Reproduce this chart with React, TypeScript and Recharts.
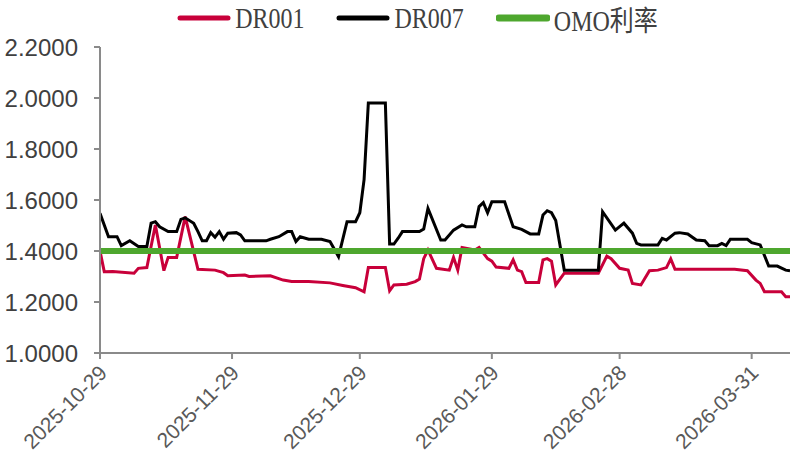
import { LineChart, Line, XAxis, YAxis, Legend } from "recharts";

// DR001 vertices (date, %)
const dr001Dates = [
  "2025-10-29", "2025-10-30", "2025-11-01", "2025-11-06", "2025-11-07", "2025-11-09", "2025-11-11",
  "2025-11-13", "2025-11-14", "2025-11-16", "2025-11-18", "2025-11-21", "2025-11-25", "2025-11-27",
  "2025-11-28", "2025-12-02", "2025-12-03", "2025-12-08", "2025-12-11", "2025-12-13", "2025-12-17",
  "2025-12-22", "2025-12-25", "2025-12-28", "2025-12-30", "2025-12-31", "2026-01-04", "2026-01-05",
  "2026-01-06", "2026-01-09", "2026-01-11", "2026-01-12", "2026-01-13", "2026-01-14", "2026-01-16",
  "2026-01-19", "2026-01-20", "2026-01-21", "2026-01-22", "2026-01-25", "2026-01-26", "2026-01-28",
  "2026-01-29", "2026-01-30", "2026-02-02", "2026-02-03", "2026-02-04", "2026-02-05", "2026-02-06",
  "2026-02-09", "2026-02-10", "2026-02-11", "2026-02-12", "2026-02-13", "2026-02-15", "2026-02-23",
  "2026-02-25", "2026-02-26", "2026-02-28", "2026-03-02", "2026-03-03", "2026-03-05", "2026-03-07",
  "2026-03-09", "2026-03-11", "2026-03-12", "2026-03-13", "2026-03-27", "2026-03-30", "2026-04-01",
  "2026-04-02", "2026-04-03", "2026-04-07", "2026-04-08", "2026-04-09",
];
const dr001Values = [
  1.4, 1.319, 1.32, 1.313, 1.332, 1.335, 1.502,
  1.323, 1.375, 1.375, 1.535, 1.328, 1.325, 1.315,
  1.303, 1.306, 1.3, 1.303, 1.286, 1.28, 1.28,
  1.275, 1.265, 1.256, 1.24, 1.335, 1.335, 1.244,
  1.267, 1.27, 1.28, 1.29, 1.37, 1.404, 1.332,
  1.325, 1.375, 1.325, 1.414, 1.404, 1.414, 1.37,
  1.36, 1.337, 1.332, 1.365, 1.325, 1.319, 1.276,
  1.276, 1.365, 1.37, 1.36, 1.267, 1.313, 1.313,
  1.38, 1.37, 1.332, 1.325, 1.273, 1.267, 1.323,
  1.325, 1.335, 1.369, 1.328, 1.328, 1.323, 1.286,
  1.273, 1.24, 1.24, 1.221, 1.221,
];

// DR007 vertices (date, %)
const dr007Dates = [
  "2025-10-29", "2025-10-31", "2025-11-02", "2025-11-03", "2025-11-05", "2025-11-07", "2025-11-09",
  "2025-11-10", "2025-11-11", "2025-11-12", "2025-11-14", "2025-11-16", "2025-11-17", "2025-11-18",
  "2025-11-20", "2025-11-21", "2025-11-22", "2025-11-23", "2025-11-24", "2025-11-25", "2025-11-26",
  "2025-11-27", "2025-11-28", "2025-11-30", "2025-12-01", "2025-12-02", "2025-12-07", "2025-12-08",
  "2025-12-10", "2025-12-12", "2025-12-13", "2025-12-14", "2025-12-15", "2025-12-17", "2025-12-20",
  "2025-12-22", "2025-12-24", "2025-12-26", "2025-12-28", "2025-12-29", "2025-12-30", "2025-12-31",
  "2026-01-04", "2026-01-05", "2026-01-06", "2026-01-07", "2026-01-08", "2026-01-12", "2026-01-13",
  "2026-01-14", "2026-01-17", "2026-01-18", "2026-01-20", "2026-01-22", "2026-01-23", "2026-01-25",
  "2026-01-26", "2026-01-27", "2026-01-28", "2026-01-29", "2026-02-01", "2026-02-03", "2026-02-05",
  "2026-02-07", "2026-02-09", "2026-02-10", "2026-02-11", "2026-02-12", "2026-02-13", "2026-02-15",
  "2026-02-23", "2026-02-24", "2026-02-27", "2026-03-01", "2026-03-03", "2026-03-04", "2026-03-05",
  "2026-03-09", "2026-03-10", "2026-03-11", "2026-03-13", "2026-03-14", "2026-03-16", "2026-03-18",
  "2026-03-20", "2026-03-21", "2026-03-23", "2026-03-24", "2026-03-25", "2026-03-26", "2026-03-30",
  "2026-03-31", "2026-04-02", "2026-04-04", "2026-04-06", "2026-04-08", "2026-04-09",
];
const dr007Values = [
  1.548, 1.456, 1.456, 1.421, 1.44, 1.418, 1.418,
  1.509, 1.515, 1.495, 1.476, 1.476, 1.524, 1.53,
  1.509, 1.476, 1.44, 1.44, 1.472, 1.454, 1.476,
  1.446, 1.47, 1.472, 1.463, 1.44, 1.44, 1.446,
  1.456, 1.476, 1.476, 1.437, 1.456, 1.446, 1.446,
  1.437, 1.378, 1.515, 1.515, 1.55, 1.68, 1.98,
  1.98, 1.427, 1.427, 1.45, 1.476, 1.476, 1.486,
  1.567, 1.443, 1.443, 1.482, 1.502, 1.495, 1.495,
  1.574, 1.59, 1.55, 1.593, 1.593, 1.495, 1.485,
  1.467, 1.467, 1.541, 1.558, 1.55, 1.52, 1.325,
  1.325, 1.554, 1.482, 1.509, 1.47, 1.43, 1.424,
  1.424, 1.45, 1.443, 1.47, 1.472, 1.467, 1.443,
  1.44, 1.421, 1.421, 1.43, 1.421, 1.446, 1.446,
  1.433, 1.424, 1.341, 1.341, 1.325, 1.322,
];

// OMO 7-day reverse repo rate
const omoDates = ["2025-10-29", "2026-04-09"];
const omoValues = [1.4, 1.4];

const xTickDates = ["2025-10-29", "2025-11-29", "2025-12-29", "2026-01-29", "2026-02-28", "2026-03-31"];
const yTicks = [1.0, 1.2, 1.4, 1.6, 1.8, 2.0, 2.2];

const START = Date.UTC(2025, 9, 29);
const DAY = 86400000;
const toDay = (s: string) => {
  const [y, m, d] = s.split("-").map(Number);
  return Math.round((Date.UTC(y, m - 1, d) - START) / DAY);
};
const fromDay = (t: number) => new Date(START + t * DAY).toISOString().slice(0, 10);

const build = (dates: string[], values: number[]) => dates.map((d, i) => ({ t: toDay(d), v: values[i] }));

const dr001Data = build(dr001Dates, dr001Values);
const dr007Data = build(dr007Dates, dr007Values);
const omoData = build(omoDates, omoValues);

const RED = "#C8003A";
const GREEN = "#4EA72E";

const legendItems = [
  { name: "DR001", color: RED },
  { name: "DR007", color: "#000000" },
  { name: "OMO利率", color: GREEN },
];

function LegendRow() {
  return (
    <div style={{ display: "flex", justifyContent: "center", alignItems: "center", height: 36, paddingLeft: 32, gap: 32 }}>
      {legendItems.map((it) => (
        <div key={it.name} style={{ display: "flex", alignItems: "center" }}>
          <svg width={54} height={10} style={{ marginRight: 4 }}>
            <line x1={3} y1={5} x2={51} y2={5} stroke={it.color} strokeWidth={it.name === "OMO利率" ? 7 : 5} strokeLinecap="round" />
          </svg>
          <span
            style={{
              fontFamily: "'Liberation Serif', 'Noto Sans CJK SC', serif",
              fontSize: 24,
              color: "#404040",
              display: "inline-block",
              transform: "scaleY(1.2)",
            }}
          >
            {it.name}
          </span>
        </div>
      ))}
    </div>
  );
}

function DateTick(props: any) {
  const { x, y, payload } = props;
  return (
    <g transform={`translate(${x + 3},${y + 8})`}>
      <text
        x={0}
        y={0}
        dy="0.35em"
        textAnchor="end"
        transform="rotate(-45)"
        fontSize={21}
        fill="#595959"
        fontFamily="'Liberation Sans', Arial, sans-serif"
      >
        {fromDay(payload.value)}
      </text>
    </g>
  );
}

export default function App() {
  return (
    <div style={{ position: "absolute", left: 0, top: 0, width: 803, height: 470, background: "#fff" }}>
      <LineChart width={803} height={470} margin={{ top: 11, right: 13, bottom: 0, left: 0 }}>
        <Legend verticalAlign="top" content={() => <LegendRow />} wrapperStyle={{ top: 0, left: 0, width: 803, height: 36 }} />
        <XAxis
          dataKey="t"
          type="number"
          domain={[0, 162]}
          ticks={xTickDates.map(toDay)}
          allowDataOverflow
          height={117}
          stroke="#8a8a8a"
          strokeWidth={2}
          tickSize={6}
          tick={<DateTick />}
          interval={0}
        />
        <YAxis
          type="number"
          domain={[1, 2.2]}
          ticks={yTicks}
          width={100}
          stroke="#8a8a8a"
          strokeWidth={2}
          tickSize={6}
          tickMargin={16}
          tickFormatter={(v: number) => v.toFixed(4)}
          tick={{ fontSize: 24, fill: "#404040", fontFamily: "'Liberation Sans', Arial, sans-serif" }}
        />
        <Line data={dr001Data} dataKey="v" name="DR001" stroke={RED} strokeWidth={3} dot={false} type="linear" isAnimationActive={false} />
        <Line data={dr007Data} dataKey="v" name="DR007" stroke="#000000" strokeWidth={3} dot={false} type="linear" isAnimationActive={false} />
        <Line data={omoData} dataKey="v" name="OMO利率" stroke={GREEN} strokeWidth={6} strokeLinecap="round" dot={false} type="linear" isAnimationActive={false} />
      </LineChart>
    </div>
  );
}
